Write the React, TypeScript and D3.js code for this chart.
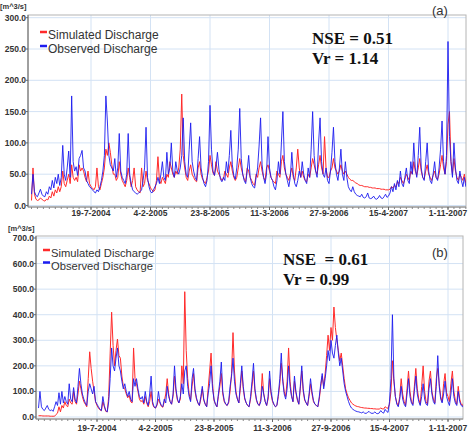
import React from 'react';
import * as d3 from 'd3';

// ---- data (5-day samples starting 1-1-2004) ----
const START_DATE = '2004-01-01';
const STEP_DAYS = 5;

const observedA = [
  18, 50, 22, 16, 14, 20, 26, 18, 15, 14, 22, 18, 30, 25, 40, 28, 45, 35, 50, 32,
  45, 96, 50, 40, 60, 87, 45, 175, 70, 55, 62, 48, 75, 80, 88, 60, 55, 40, 35, 30,
  28, 25, 22, 20, 25, 22, 30, 40, 55, 80, 175, 135, 80, 65, 60, 55, 75, 45, 60, 115,
  55, 45, 40, 35, 50, 115, 50, 35, 25, 22, 20, 18, 20, 22, 25, 40, 60, 125, 45, 30,
  22, 20, 25, 30, 35, 45, 35, 50, 70, 45, 40, 85, 50, 60, 100, 55, 45, 70, 55, 50,
  60, 80, 140, 70, 50, 45, 90, 132, 70, 55, 45, 40, 75, 110, 60, 45, 35, 30, 40, 70,
  160, 90, 55, 48, 62, 85, 58, 42, 38, 45, 40, 70, 52, 80, 120, 65, 48, 42, 60, 90,
  155, 75, 50, 40, 35, 55, 80, 45, 35, 30, 28, 45, 60, 95, 140, 65, 45, 35, 50, 110,
  60, 45, 40, 30, 25, 40, 70, 50, 100, 150, 70, 50, 40, 30, 45, 85, 50, 35, 30, 40,
  55, 45, 70, 50, 40, 35, 60, 45, 90, 150, 80, 55, 45, 100, 140, 70, 50, 45, 60, 40,
  35, 55, 85, 125, 70, 50, 40, 60, 90, 50, 40, 70, 45, 30, 25, 22, 30, 22, 18, 16,
  15, 14, 18, 13, 12, 14, 20, 12, 11, 12, 15, 11, 10, 12, 16, 12, 11, 14, 18, 13,
  15, 20, 30, 22, 35, 25, 40, 30, 55, 35, 30, 45, 60, 40, 35, 70, 50, 100, 60, 45,
  80, 125, 60, 45, 40, 70, 100, 55, 40, 35, 50, 70, 45, 40, 60, 90, 135, 70, 50, 80,
  262, 110, 70, 45, 100, 60, 40, 35, 55, 40, 30, 45, 30,
];

const simulatedA = [
  8, 60, 18, 10, 8, 9, 12, 10, 8, 7, 10, 9, 15, 12, 22, 15, 25, 20, 30, 22,
  30, 55, 35, 30, 40, 50, 35, 65, 45, 40, 45, 38, 65, 55, 60, 55, 45, 38, 55, 35,
  30, 28, 25, 30, 60, 30, 25, 35, 45, 60, 90, 80, 100, 85, 65, 50, 50, 40, 45, 70,
  50, 40, 35, 30, 40, 60, 45, 30, 40, 60, 30, 25, 22, 20, 60, 30, 35, 55, 40, 35,
  28, 25, 22, 25, 40, 78, 40, 35, 45, 40, 35, 50, 45, 70, 60, 50, 45, 55, 50, 60,
  90, 178, 80, 60, 45, 40, 55, 65, 50, 45, 40, 38, 60, 70, 50, 42, 38, 35, 45, 55,
  80, 65, 52, 48, 70, 55, 50, 45, 40, 42, 55, 50, 45, 60, 70, 55, 45, 40, 45, 60,
  75, 60, 50, 42, 38, 60, 55, 45, 40, 35, 32, 50, 45, 60, 70, 55, 45, 40, 60, 65,
  55, 45, 40, 38, 35, 55, 50, 45, 70, 80, 60, 50, 45, 40, 50, 60, 45, 40, 60, 90,
  60, 45, 55, 45, 40, 38, 50, 45, 60, 75, 65, 55, 50, 65, 80, 60, 50, 110, 60, 45,
  45, 55, 60, 75, 60, 55, 50, 55, 65, 55, 50, 55, 50, 45, 42, 40, 40, 38, 36, 35,
  33, 32, 32, 31, 30, 30, 30, 29, 29, 28, 28, 28, 27, 27, 27, 26, 26, 26, 25, 25,
  25, 26, 30, 28, 32, 30, 38, 35, 45, 40, 35, 42, 50, 45, 40, 55, 50, 70, 55, 48,
  60, 75, 55, 45, 42, 55, 65, 50, 45, 40, 48, 55, 45, 42, 50, 65, 80, 60, 50, 70,
  130, 150, 70, 50, 75, 55, 45, 40, 50, 45, 40, 50, 35,
];

const observedB = [
  35, 100, 40, 30, 25, 35, 45, 30, 25, 28, 22, 40, 60, 45, 95, 50, 100, 55, 80, 60,
  50, 130, 70, 60, 115, 70, 55, 120, 190, 130, 90, 70, 55, 45, 100, 130, 110, 90, 120, 60,
  50, 40, 30, 25, 80, 45, 25, 20, 60, 150, 270, 200, 180, 230, 270, 200, 180, 140, 110, 130,
  100, 80, 100, 70, 60, 150, 120, 150, 110, 80, 70, 80, 55, 100, 60, 45, 90, 160, 60, 40,
  35, 50, 100, 60, 45, 40, 70, 55, 120, 80, 60, 50, 90, 200, 110, 70, 55, 80, 130, 90,
  180, 200, 120, 80, 60, 150, 190, 110, 75, 55, 45, 80, 120, 70, 50, 40, 90, 130, 200, 110,
  70, 50, 40, 90, 140, 215, 100, 65, 50, 45, 60, 120, 160, 230, 140, 90, 70, 55, 130, 200,
  120, 75, 55, 45, 40, 80, 140, 210, 110, 70, 50, 45, 60, 120, 90, 60, 45, 80, 180, 100,
  65, 50, 40, 45, 90, 150, 250, 140, 90, 70, 110, 200, 120, 80, 60, 160, 100, 70, 50, 120,
  200, 110, 70, 55, 45, 90, 150, 100, 65, 50, 45, 40, 80, 130, 170, 110, 150, 200, 260, 220,
  300, 250, 230, 280, 320, 250, 200, 230, 180, 130, 100, 80, 60, 45, 35, 30, 26, 23, 21, 20,
  18, 16, 20, 15, 14, 18, 22, 16, 14, 15, 20, 14, 13, 16, 25, 18, 15, 30, 22, 18,
  60, 150, 400, 150, 80, 50, 40, 70, 120, 70, 50, 40, 90, 150, 80, 55, 45, 100, 160, 90,
  60, 45, 80, 130, 70, 50, 45, 110, 150, 90, 60, 50, 120, 240, 120, 70, 55, 90, 140, 80,
  60, 45, 90, 150, 80, 55, 45, 100, 60, 45, 40, 55, 40,
];

const simulatedB = [
  5, 5, 5, 4, 4, 4, 4, 4, 3, 3, 3, 3, 10, 15, 40, 20, 45, 35, 60, 45,
  40, 70, 55, 50, 100, 60, 50, 90, 140, 110, 80, 60, 50, 40, 150, 255, 190, 140, 100, 60,
  45, 35, 28, 25, 60, 40, 22, 20, 80, 250, 410, 280, 200, 260, 305, 240, 230, 160, 120, 110,
  90, 75, 85, 60, 55, 270, 150, 130, 100, 70, 60, 65, 50, 80, 55, 40, 60, 100, 50, 38,
  35, 45, 70, 55, 42, 38, 60, 90, 150, 90, 60, 50, 80, 160, 100, 65, 55, 70, 200, 130,
  490, 260, 150, 90, 65, 120, 170, 100, 70, 55, 45, 70, 110, 65, 50, 40, 110, 180, 250, 130,
  65, 50, 40, 80, 120, 170, 90, 60, 50, 45, 55, 100, 170, 330, 180, 100, 70, 55, 110, 180,
  110, 70, 55, 45, 40, 70, 120, 180, 100, 65, 50, 45, 70, 170, 90, 60, 45, 70, 150, 90,
  60, 48, 40, 45, 80, 130, 210, 150, 100, 80, 140, 270, 140, 85, 60, 140, 95, 65, 50, 110,
  180, 100, 65, 55, 45, 80, 130, 90, 60, 50, 45, 40, 70, 120, 160, 120, 170, 240, 320, 260,
  350, 300, 430, 350, 300, 260, 220, 250, 200, 150, 110, 90, 75, 65, 55, 50, 46, 43, 41, 40,
  38, 37, 36, 35, 35, 34, 34, 33, 33, 32, 32, 31, 31, 31, 35, 32, 31, 40, 36, 34,
  50, 100, 220, 140, 80, 55, 45, 80, 150, 90, 60, 45, 110, 180, 100, 60, 50, 120, 190, 110,
  70, 50, 120, 200, 100, 60, 50, 140, 180, 100, 70, 55, 150, 190, 130, 80, 60, 130, 170, 95,
  80, 60, 130, 180, 100, 65, 50, 120, 70, 50, 45, 60, 45,
];

const X_TICK_LABELS = ['19-7-2004', '4-2-2005', '23-8-2005', '11-3-2006', '27-9-2006', '15-4-2007', '1-11-2007'];
const Y_TICKS_A = [0, 50, 100, 150, 200, 250, 300];
const Y_TICKS_B = [0, 100, 200, 300, 400, 500, 600, 700];
const SERIES_NAMES = ['Simulated Discharge', 'Observed Discharge'];
const UNIT_LABEL = '[m^3/s]';

const parseTick = d3.timeParse('%d-%m-%Y');
const parseStart = d3.timeParse('%Y-%m-%d');
const start = parseStart(START_DATE) as Date;
const dateAt = (i: number) => d3.timeDay.offset(start, i * STEP_DAYS);
const tickDates = X_TICK_LABELS.map((s) => parseTick(s) as Date);
const lastTick = tickDates[tickDates.length - 1];

const RED = '#ff2a2a';
const BLUE = '#1c1cf0';
const GRID = '#d3e2f4';

type PanelCfg = {
  id: string;
  observed: number[];
  simulated: number[];
  yTicks: number[];
  plotL: number; plotR: number; plotT: number; plotB: number;
  xStart: number; xLast: number;
  yZero: number; yTop: number;
  unitX: number; unitY: number;
  legX: number; legY: number; legGap: number; legFont: number;
  statX: number; statY: number;
  nse: string; vr: string;
  tag: string; tagX: number; tagY: number;
  labelY: number;
};

function Panel({ c }: { c: PanelCfg }) {
  const yMax = c.yTicks[c.yTicks.length - 1];
  const x = d3.scaleTime().domain([start, lastTick]).range([c.xStart, c.xLast]);
  const y = d3.scaleLinear().domain([0, yMax]).range([c.yZero, c.yTop]);
  const line = d3.line<number>().x((_, i) => x(dateAt(i))).y((d) => y(d));
  const minor: Date[] = [];
  for (let d = d3.timeDay.offset(start, -20); d <= d3.timeDay.offset(lastTick, 60); d = d3.timeDay.offset(d, 20)) {
    const px = x(d);
    if (px >= c.plotL && px <= c.plotR) minor.push(d);
  }
  return (
    <g>
      <defs>
        <clipPath id={`clip-${c.id}`}>
          <rect x={c.plotL} y={c.plotT} width={c.plotR - c.plotL} height={c.plotB - c.plotT} />
        </clipPath>
      </defs>
      {c.yTicks.map((t) => (
        <line key={`hg${t}`} x1={c.plotL} x2={c.plotR} y1={y(t)} y2={y(t)} stroke={GRID} strokeWidth={1} />
      ))}
      {tickDates.map((d, i) => (
        <line key={`vg${i}`} x1={x(d)} x2={x(d)} y1={c.plotT} y2={c.plotB} stroke={GRID} strokeWidth={1} />
      ))}
      <rect x={c.plotL} y={c.plotT} width={c.plotR - c.plotL} height={c.plotB - c.plotT} fill="none" stroke="#b4b4b4" strokeWidth={1} />
      <line x1={c.plotL} x2={c.plotL} y1={c.plotT} y2={c.plotB} stroke="#666" strokeWidth={1} />
      <line x1={c.plotL} x2={c.plotR} y1={c.plotB} y2={c.plotB} stroke="#888" strokeWidth={1} />
      <g clipPath={`url(#clip-${c.id})`}>
        <path d={line(c.simulated) || ''} fill="none" stroke={RED} strokeWidth={1} strokeLinejoin="round" />
        <path d={line(c.observed) || ''} fill="none" stroke={BLUE} strokeWidth={1} strokeOpacity={0.9} strokeLinejoin="round" />
      </g>
      {c.yTicks.map((t) => (
        <g key={`yt${t}`}>
          <line x1={c.plotL - 2} x2={c.plotL} y1={y(t)} y2={y(t)} stroke="#666" />
          <text x={c.plotL - 2} y={y(t) + 3} textAnchor="end" fontFamily="Liberation Sans, Arial, sans-serif" fontWeight="bold" fontSize={8.5} fill="#333">
            {t.toFixed(1)}
          </text>
        </g>
      ))}
      {minor.map((d, i) => (
        <line key={`mt${i}`} x1={x(d)} x2={x(d)} y1={c.plotB} y2={c.plotB + 2} stroke="#888" />
      ))}
      {tickDates.map((d, i) => (
        <g key={`xt${i}`}>
          <line x1={x(d)} x2={x(d)} y1={c.plotB} y2={c.plotB + 3} stroke="#666" />
          <text x={x(d)} y={c.labelY} textAnchor="middle" fontFamily="Liberation Sans, Arial, sans-serif" fontWeight="bold" fontSize={8.5} fill="#333">
            {X_TICK_LABELS[i]}
          </text>
        </g>
      ))}
      <text x={c.unitX} y={c.unitY} fontFamily="Liberation Sans, Arial, sans-serif" fontWeight="bold" fontSize={7.5} fill="#333">
        {UNIT_LABEL}
      </text>
      {SERIES_NAMES.map((n, i) => (
        <g key={n}>
          <line x1={c.legX} x2={c.legX + 7} y1={c.legY + i * c.legGap - 7} y2={c.legY + i * c.legGap - 7} stroke={i === 0 ? RED : BLUE} strokeWidth={2.5} />
          <text x={c.legX + 8} y={c.legY + i * c.legGap} fontFamily="Liberation Sans, Arial, sans-serif" fontSize={c.legFont} fill="#333">
            {n}
          </text>
        </g>
      ))}
      <text x={c.statX} y={c.statY} fontFamily="Liberation Serif, Times New Roman, serif" fontWeight="bold" fontSize={17} fill="#111" xmlSpace="preserve">
        {c.nse}
      </text>
      <text x={c.statX} y={c.statY + 20} fontFamily="Liberation Serif, Times New Roman, serif" fontWeight="bold" fontSize={17} fill="#111">
        {c.vr}
      </text>
      <text x={c.tagX} y={c.tagY} fontFamily="Liberation Sans, Arial, sans-serif" fontSize={13} fill="#333">
        {c.tag}
      </text>
    </g>
  );
}

const panelA: PanelCfg = {
  id: 'a', observed: observedA, simulated: simulatedA, yTicks: Y_TICKS_A,
  plotL: 28, plotR: 466, plotT: 15, plotB: 207,
  xStart: 31.5, xLast: 448,
  yZero: 205.5, yTop: 17.7,
  unitX: 0, unitY: 9,
  legX: 40, legY: 39, legGap: 14, legFont: 12,
  statX: 312, statY: 44,
  nse: 'NSE = 0.51', vr: 'Vr = 1.14',
  tag: '(a)', tagX: 432, tagY: 15,
  labelY: 216,
};

const panelB: PanelCfg = {
  id: 'b', observed: observedB, simulated: simulatedB, yTicks: Y_TICKS_B,
  plotL: 36, plotR: 463, plotT: 236, plotB: 419,
  xStart: 38.5, xLast: 448,
  yZero: 417, yTop: 238,
  unitX: 8, unitY: 231,
  legX: 43, legY: 257, legGap: 12.5, legFont: 11.2,
  statX: 283, statY: 265,
  nse: 'NSE  = 0.61', vr: 'Vr = 0.99',
  tag: '(b)', tagX: 432, tagY: 257,
  labelY: 431,
};

export default function App() {
  return (
    <svg width={474} height={438} style={{ position: 'absolute', left: 0, top: 0, background: '#fff' }}>
      <rect width={474} height={438} fill="#fff" />
      <Panel c={panelA} />
      <Panel c={panelB} />
    </svg>
  );
}
